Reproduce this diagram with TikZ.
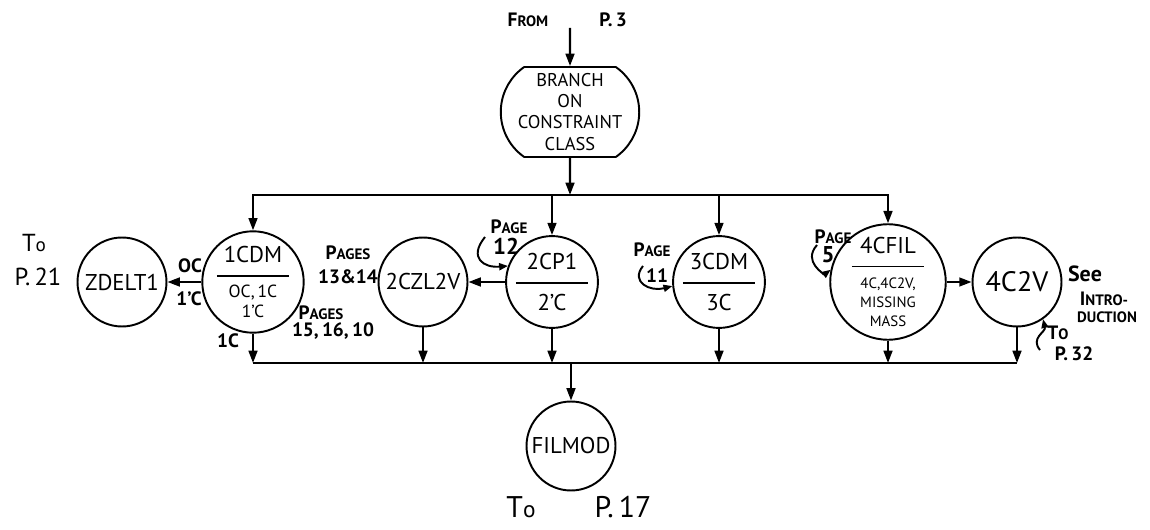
\documentclass[tikz,border=0pt]{standalone}
\usepackage{fontspec}
\setmainfont{PT Sans}
\usepackage{tikz}
\usepackage{xcolor}
\usetikzlibrary{positioning,arrows.meta,shapes.misc,calc}
\newcommand{\smcap}[1]{\scalebox{0.78}{#1}}
\newcommand{\minor}[1]{{\fontsize{10}{11}\selectfont #1}}
\newcommand{\wee}[1]{{\fontsize{8.5}{9}\selectfont #1}}

\begin{document}
\begin{tikzpicture}[x=0.02cm,y=-0.02cm,every node/.style={font=\fontsize{11}{12}\selectfont},
    >={Triangle[length=7pt,width=5pt]}]
      \tikzstyle{pc} =[circle,draw,line width=1.1pt,minimum size=1.78cm,inner sep=0pt,
                       align=center,font=\fontsize{13}{14}\selectfont];
      \tikzstyle{br} =[rounded rectangle,rounded rectangle arc length=110,draw,line width=1.1pt,
                       minimum width=2.84cm,minimum height=1.8cm,inner sep=1pt,align=center,
                       font=\fontsize{10.5}{12}\selectfont];
      \tikzstyle{lbl}=[inner sep=0pt,font=\bfseries\fontsize{11}{12}\selectfont];
      \tikzstyle{big}=[inner sep=0pt,font=\fontsize{14}{15}\selectfont];
      \tikzstyle{ar} =[->,line width=1.2pt];
      \tikzstyle{cu} =[-{Triangle[length=5pt,width=4pt]},line width=1.1pt];
      \useasboundingbox (0,0) rectangle (1150,530);
      \node[lbl] (from) at (528,20) {F\smcap{ROM}};
      \node[lbl] (p3) at (613,20) {P.\,3};
      \coordinate (top) at (570,28);
      \node[br] (branch) at (570,112) {BRANCH\\ON\\CONSTRAINT\\CLASS};
      \coordinate (jt) at (570,195);
      \node[pc] (zdelt) at (122,282) {ZDELT1};
      \node[pc] (c1cdm) at (253,282) {1CDM\\[-6pt]\rule{1.45cm}{0.9pt}\\[-2pt]\minor{OC,\,1C}\\[-3pt]\minor{1’C}};
      \node[pc] (c2czl) at (423,282) {2CZL2V};
      \node[pc] (c2cp)  at (552,282) {2CP1\\[-6pt]\rule{1.45cm}{0.9pt}\\[1pt]2’C};
      \node[pc] (c3cdm) at (719,282) {3CDM\\[-6pt]\rule{1.45cm}{0.9pt}\\[1pt]3C};
      \node[pc] (c4cfil) at (888,282) {4CFIL\\[-6pt]\rule{1.45cm}{0.9pt}\\[-2pt]\wee{4C,4C2V,}\\[-3pt]\wee{MISSING}\\[-3pt]\wee{MASS}};
      \node[pc,font=\fontsize{16}{17}\selectfont] (c4c2v) at (1017,282) {4C2V};
      \coordinate (jb) at (571,363);
      \node[pc] (filmod) at (571,446) {FILMOD};
      \draw[ar] (top) -- (branch);
      \draw[ar] (branch) -- (jt);
      \draw[ar] (jt) -| (c1cdm);
      \draw[ar] (jt) -| (c2cp);
      \draw[ar] (jt) -| (c3cdm);
      \draw[ar] (jt) -| (c4cfil);
      \draw[ar] (c1cdm) -- (zdelt);
      \draw[ar] (c2cp) -- (c2czl);
      \draw[ar] (c4cfil) -- (c4c2v);
      \draw[ar] (c1cdm) -- (c1cdm |- jb);
      \draw[ar] (c2czl) -- (c2czl |- jb);
      \draw[ar] (c2cp) -- (c2cp |- jb);
      \draw[ar] (c3cdm) -- (c3cdm |- jb);
      \draw[ar] (c4cfil) -- (c4cfil |- jb);
      \draw[ar] (c4c2v) -- (c4c2v |- jb);
      \draw[line width=1.2pt] (c1cdm |- jb) -- (c4c2v |- jb);
      \draw[ar] (jb) -- (filmod);
      \node[big] (to21) at (34,243) {T\smcap{o}};
      \node[big] (p21) at (38,277) {P.\,21};
      \node[lbl] (oc) at (190,266) {OC};
      \node[lbl] (oc1) at (189,299) {1’C};
      \node[lbl] (l1c) at (228,341) {1C};
      \node[lbl] (pg15) at (321,313) {P\smcap{AGES}};
      \node[lbl] (n15) at (333,331) {15,\,16,\,10};
      \node[lbl] (pg13) at (348,253) {P\smcap{AGES}};
      \node[lbl] (n13) at (348,277) {13\&14};
      \node[lbl] (pg12) at (509,227) {P\smcap{AGE}};
      \node[lbl,font=\bfseries\fontsize{13}{14}\selectfont] (n12) at (506,246) {12};
      \node[lbl] (pg11) at (652,250) {P\smcap{AGE}};
      \node[lbl] (n11) at (657,276) {11};
      \node[lbl] (pg5) at (833,237) {P\smcap{AGE}};
      \node[lbl,font=\bfseries\fontsize{13}{14}\selectfont] (n5) at (828,255) {5};
      \node[lbl,font=\bfseries\fontsize{12.5}{14}\selectfont] (see) at (1085,274) {See};
      \node[lbl] (intro) at (1104,299) {I\smcap{NTRO-}};
      \node[lbl] (duct) at (1107,317) {\smcap{DUCTION}};
      \node[lbl] (to32) at (1058,333) {T\smcap{O}};
      \node[lbl] (p32) at (1074,354) {P.\,32};
      \node[big,font=\fontsize{17}{18}\selectfont] (to17) at (521,507) {T\smcap{o}};
      \node[big,font=\fontsize{17}{18}\selectfont] (p17) at (623,507) {P.\,17};
      \coordinate (s12) at (485,237);
      \coordinate (s11) at (643,266);
      \coordinate (s5) at (817,245);
      \coordinate (s32) at (1040,350);
      \draw[cu] (s12) .. controls (468,258) and (484,268) .. (c2cp.160);
      \draw[cu] (s11) .. controls (630,282) and (650,292) .. (c3cdm.185);
      \draw[cu] (s5) .. controls (802,262) and (825,274) .. (c4cfil.168);
      \draw[cu] (s32) .. controls (1030,338) and (1046,332) .. (c4c2v.-55);
    \end{tikzpicture}
\end{document}
